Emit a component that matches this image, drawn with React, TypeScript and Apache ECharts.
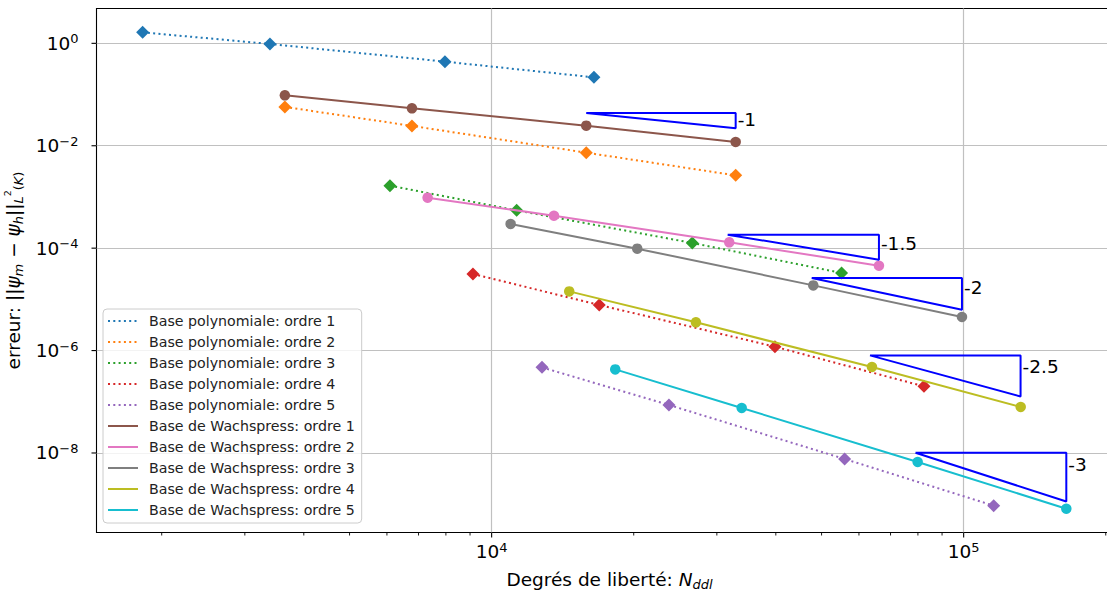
import React, { useEffect, useRef } from 'react';
import * as echarts from 'echarts';

const FONT = 'DejaVu Sans';

// ---- data ----
const polyNames = [
  'Base polynomiale: ordre 1',
  'Base polynomiale: ordre 2',
  'Base polynomiale: ordre 3',
  'Base polynomiale: ordre 4',
  'Base polynomiale: ordre 5',
];
const wachNames = [
  'Base de Wachspress: ordre 1',
  'Base de Wachspress: ordre 2',
  'Base de Wachspress: ordre 3',
  'Base de Wachspress: ordre 4',
  'Base de Wachspress: ordre 5',
];

const poly1X = [1822, 3391, 7962, 16470];
const poly1Y = [1.64, 0.973, 0.439, 0.217];
const poly2X = [3647, 6779, 15864, 32885];
const poly2Y = [0.0573, 0.0244, 0.00733, 0.00264];
const poly3X = [6089, 11298, 26608, 55130];
const poly3Y = [0.001663, 5.47e-4, 1.264e-4, 3.28e-5];
const poly4X = [9129, 16903, 39830, 82400];
const poly4Y = [3.13e-5, 7.78e-6, 1.19e-6, 2.0e-7];
const poly5X = [12785, 23750, 55950, 115770];
const poly5Y = [4.7e-7, 8.66e-8, 7.64e-9, 9.35e-10];

const wach1X = [3647, 6779, 15864, 32885];
const wach1Y = [0.0965, 0.0538, 0.0247, 0.01186];
const wach2X = [7318, 13552, 31871, 66150];
const wach2Y = [9.69e-4, 4.31e-4, 1.298e-4, 4.55e-5];
const wach3X = [10970, 20345, 48020, 99180];
const wach3Y = [2.97e-4, 9.78e-5, 1.876e-5, 4.53e-6];
const wach4X = [14601, 27090, 63930, 132080];
const wach4Y = [1.432e-5, 3.56e-6, 4.78e-7, 7.91e-8];
const wach5X = [18276, 33865, 79900, 165000];
const wach5Y = [4.29e-7, 7.57e-8, 6.67e-9, 8.17e-10];

const polyColors = ['#1f77b4', '#ff7f0e', '#2ca02c', '#d62728', '#9467bd'];
const wachColors = ['#8c564b', '#e377c2', '#7f7f7f', '#bcbd22', '#17becf'];

// slope triangles
const slopeLabels = ['-1', '-1.5', '-2', '-2.5', '-3'];
const triX1 = [15864, 31623, 47650, 63320, 79070];
const triX2 = [32885, 66150, 99180, 132000, 165000];
const triYTop = [0.04372, 1.836e-4, 2.62e-5, 8.05e-7, 1.01e-8];
const triYBottom = [0.02188, 5.96e-5, 6.29e-6, 1.27e-7, 1.13e-9];
const slopeLabelY = [0.0323, 1.224e-4, 1.693e-5, 4.91e-7, 5.91e-9];

// axes
const xMin = 1455;
const xMax = 206700;
const yMin = 2.8e-10;
const yMax = 4.79;
const xMajorTicks = [1e4, 1e5];
const xMinorTicks = [
  2000, 3000, 4000, 5000, 6000, 7000, 8000, 9000,
  20000, 30000, 40000, 50000, 60000, 70000, 80000, 90000,
  200000,
];
const yMajorTicks = [1, 1e-2, 1e-4, 1e-6, 1e-8];

function powLabel(v: number): string {
  const l = Math.log10(v);
  const e = Math.round(l);
  if (Math.abs(l - e) > 1e-6) return '';
  return '10{sup|' + (e < 0 ? '\u2212' + -e : String(e)) + '}';
}

const supRich = {
  sup: { fontFamily: FONT, fontSize: 13, lineHeight: 6, verticalAlign: 'top', color: '#000' },
};

function buildOption() {
  const polyX = [poly1X, poly2X, poly3X, poly4X, poly5X];
  const polyY = [poly1Y, poly2Y, poly3Y, poly4Y, poly5Y];
  const wachX = [wach1X, wach2X, wach3X, wach4X, wach5X];
  const wachY = [wach1Y, wach2Y, wach3Y, wach4Y, wach5Y];

  const series: any[] = [];
  polyNames.forEach((name, i) => {
    series.push({
      type: 'line',
      name,
      data: polyX[i].map((x, j) => [x, polyY[i][j]]),
      symbol: 'diamond',
      symbolSize: 13,
      showSymbol: true,
      color: polyColors[i],
      itemStyle: { color: polyColors[i] },
      lineStyle: { color: polyColors[i], width: 2, type: [2, 3.3], cap: 'butt' },
      z: 2,
    });
  });
  wachNames.forEach((name, i) => {
    series.push({
      type: 'line',
      name,
      data: wachX[i].map((x, j) => [x, wachY[i][j]]),
      symbol: 'circle',
      symbolSize: 10.5,
      showSymbol: true,
      color: wachColors[i],
      itemStyle: { color: wachColors[i] },
      lineStyle: { color: wachColors[i], width: 2, type: 'solid' },
      z: 3,
    });
  });
  slopeLabels.forEach((lab, i) => {
    series.push({
      type: 'line',
      name: 'pente ' + lab,
      data: [
        [triX1[i], triYTop[i]],
        [triX2[i], triYTop[i]],
        [triX2[i], triYBottom[i]],
        [triX1[i], triYTop[i]],
      ],
      showSymbol: false,
      symbol: 'none',
      lineStyle: { color: '#0000ff', width: 2 },
      silent: true,
      z: 4,
    });
  });
  // slope labels
  series.push({
    type: 'custom',
    name: 'slopeLabels',
    clip: false,
    silent: true,
    z: 6,
    data: slopeLabels.map((_, i) => [triX2[i], slopeLabelY[i], i]),
    renderItem: (params: any, api: any) => {
      const i = api.value(2);
      const p = api.coord([api.value(0), api.value(1)]);
      return {
        type: 'text',
        x: p[0] + 2,
        y: p[1],
        style: {
          text: slopeLabels[i],
          fontFamily: FONT,
          fontSize: 18.5,
          fill: '#000',
          align: 'left',
          verticalAlign: 'middle',
        },
      };
    },
  });
  // x ticks
  const xTickData = xMajorTicks.map((v) => [v, yMin, 5]).concat(xMinorTicks.map((v) => [v, yMin, 3]));
  series.push({
    type: 'custom',
    name: 'xTicks',
    clip: false,
    silent: true,
    z: 7,
    data: xTickData,
    renderItem: (params: any, api: any) => {
      const p = api.coord([api.value(0), yMin]);
      const len = api.value(2);
      return {
        type: 'line',
        shape: { x1: p[0], y1: p[1], x2: p[0], y2: p[1] + len },
        style: { stroke: '#000', lineWidth: len > 4 ? 1.1 : 0.9 },
      };
    },
  });
  // y ticks
  series.push({
    type: 'custom',
    name: 'yTicks',
    clip: false,
    silent: true,
    z: 7,
    data: yMajorTicks.map((v) => [xMin, v]),
    renderItem: (params: any, api: any) => {
      const p = api.coord([xMin, api.value(1)]);
      return {
        type: 'line',
        shape: { x1: p[0] - 5, y1: p[1], x2: p[0], y2: p[1] },
        style: { stroke: '#000', lineWidth: 1.1 },
      };
    },
  });

  return {
    animation: false,
    backgroundColor: '#ffffff',
    textStyle: { fontFamily: FONT },
    grid: {
      left: 96.5,
      right: -5.5,
      top: 8.5,
      bottom: 62.5,
      show: true,
      borderColor: '#000',
      borderWidth: 1.1,
      backgroundColor: 'transparent',
      containLabel: false,
      outerBoundsMode: 'none',
    },
    legend: {
      data: [...polyNames, ...wachNames],
      orient: 'vertical',
      left: 103,
      top: 309,
      itemWidth: 30,
      itemHeight: 16,
      itemGap: 7,
      padding: [5, 7, 6, 4],
      backgroundColor: 'rgba(255,255,255,0.8)',
      borderColor: '#cccccc',
      borderWidth: 1,
      borderRadius: 4,
      selectedMode: false,
      itemStyle: { opacity: 0 },
      textStyle: { fontFamily: FONT, fontSize: 14.2, color: '#222', padding: [0, 0, 0, 6] },
      z: 10,
    },
    xAxis: {
      type: 'log',
      logBase: 10,
      min: xMin,
      max: xMax,
      axisLine: { show: false },
      axisTick: { show: false },
      minorTick: { show: false },
      splitLine: {
        show: true,
        showMinLine: false,
        showMaxLine: false,
        lineStyle: { color: '#c0c0c0', width: 1.2 },
      },
      axisLabel: {
        formatter: (v: number) => powLabel(v),
        fontFamily: FONT,
        fontSize: 18.5,
        lineHeight: 22,
        color: '#000',
        margin: 8,
        rich: supRich,
      },
      name: 'Degrés de liberté: {it|N}{sub|ddl}',
      nameLocation: 'middle',
      nameGap: 36,
      nameTextStyle: {
        fontFamily: FONT,
        fontSize: 18.5,
        lineHeight: 22,
        color: '#000',
        padding: [0, 0, 0, 10],
        rich: {
          it: { fontFamily: FONT, fontStyle: 'italic', fontSize: 18.5, lineHeight: 22, color: '#000' },
          sub: { fontFamily: FONT, fontStyle: 'italic', fontSize: 13, lineHeight: 12, verticalAlign: 'bottom', color: '#000' },
        },
      },
    },
    yAxis: {
      type: 'log',
      logBase: 100,
      min: yMin,
      max: yMax,
      axisLine: { show: false },
      axisTick: { show: false },
      minorTick: { show: false },
      splitLine: {
        show: true,
        showMinLine: false,
        showMaxLine: false,
        lineStyle: { color: '#c0c0c0', width: 1.2 },
      },
      axisLabel: {
        formatter: (v: number) => powLabel(v),
        fontFamily: FONT,
        fontSize: 18.5,
        lineHeight: 22,
        color: '#000',
        margin: 18,
        rich: supRich,
      },
      name: 'erreur: ||{it|ψ}{subi|m} \u2212 {it|ψ}{subi|h}||{subi|L}{subsup|2}{sub|(}{subi|K}{sub|)}',
      nameLocation: 'middle',
      nameRotate: 90,
      nameGap: 62,
      nameTextStyle: {
        fontFamily: FONT,
        fontSize: 18.5,
        lineHeight: 22,
        color: '#000',
        rich: {
          it: { fontFamily: FONT, fontStyle: 'italic', fontSize: 18.5, lineHeight: 22, color: '#000' },
          subi: { fontFamily: FONT, fontStyle: 'italic', fontSize: 13, lineHeight: 12, verticalAlign: 'bottom', color: '#000' },
          sub: { fontFamily: FONT, fontSize: 13, lineHeight: 12, verticalAlign: 'bottom', color: '#000' },
          subsup: { fontFamily: FONT, fontSize: 9.5, lineHeight: 18, verticalAlign: 'top', color: '#000' },
        },
      },
    },
    series,
  };
}

export default function App() {
  const ref = useRef<HTMLDivElement>(null);
  useEffect(() => {
    if (!ref.current) return;
    const chart = echarts.init(ref.current, null, { renderer: 'svg' });
    chart.setOption(buildOption() as any);
    return () => chart.dispose();
  }, []);
  return (
    <div
      ref={ref}
      style={{ position: 'fixed', left: 0, top: 0, width: 1107, height: 595, background: '#fff' }}
    />
  );
}
